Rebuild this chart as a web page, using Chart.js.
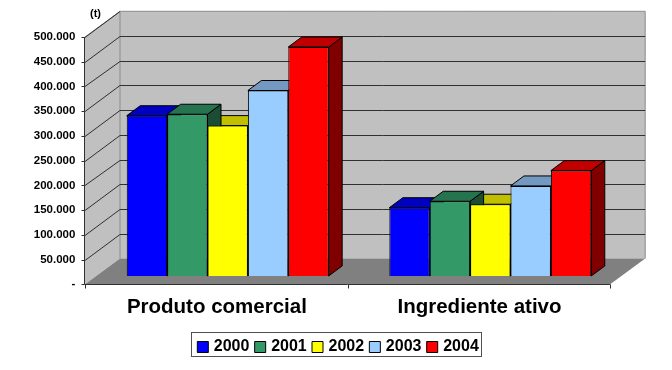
<!DOCTYPE html>
<html>
<head>
<meta charset="utf-8">
<style>html,body{margin:0;padding:0;background:#fff}#w{width:672px;height:370px}</style>
<script src="https://cdn.jsdelivr.net/npm/chart.js@4"></script>
</head>
<body>
<div id="w"><canvas id="c"></canvas></div>
<script>
const categories = ['Produto comercial', 'Ingrediente ativo'];
const years = ['2000', '2001', '2002', '2003', '2004'];
const v2000 = [324000, 138000];
const v2001 = [327000, 151000];
const v2002 = [304000, 145000];
const v2003 = [375000, 182000];
const v2004 = [463000, 213000];
const seriesValues = [v2000, v2001, v2002, v2003, v2004];
const frontColors = ['#0000FF', '#339966', '#FFFF00', '#99CCFF', '#FF0000'];
const topColors = ['#0000C0', '#267350', '#C0C000', '#7399C0', '#C00000'];
const sideColors = ['#000080', '#1A4D33', '#808000', '#4D6680', '#800000'];
const unitLabel = '(t)';
const FONT = '"Liberation Sans", Arial, sans-serif';

const scene = {
  id: 'scene',
  afterLayout(chart) {
    chart.scales.y.left = 0;   // keep the long tick labels from being clipped
  },
  beforeDraw(chart) {
    const ctx = chart.ctx, x = chart.scales.x, y = chart.scales.y;
    const a = chart.chartArea;
    const fl = a.left - 11.4, fr = a.right - 11.4;           // front plane
    const bl = fl + 35, br = fr + 35;                        // back plane
    const fy = v => y.getPixelForValue(v) + 8.3;
    const by = v => y.getPixelForValue(v) - 17.4;
    const maxV = y.max;
    ctx.save();
    ctx.fillStyle = '#fff';
    ctx.fillRect(0, 0, chart.width, chart.height);
    ctx.fillStyle = '#C0C0C0';
    ctx.fillRect(bl, by(maxV), br - bl, by(0) - by(maxV));
    ctx.beginPath();
    ctx.moveTo(fl, fy(maxV)); ctx.lineTo(bl, by(maxV)); ctx.lineTo(bl, by(0)); ctx.lineTo(fl, fy(0));
    ctx.closePath(); ctx.fill();
    ctx.fillStyle = '#808080';
    ctx.beginPath();
    ctx.moveTo(fl, fy(0)); ctx.lineTo(bl, by(0)); ctx.lineTo(br, by(0)); ctx.lineTo(fr, fy(0));
    ctx.closePath(); ctx.fill();
    ctx.strokeStyle = '#8c8c8c'; ctx.lineWidth = 1;
    ctx.beginPath();
    ctx.moveTo(fl, fy(maxV)); ctx.lineTo(bl, by(maxV)); ctx.lineTo(br, by(maxV)); ctx.lineTo(br, by(0));
    ctx.moveTo(bl, by(maxV)); ctx.lineTo(bl, by(0));
    ctx.stroke();
    ctx.strokeStyle = '#303030';
    ctx.beginPath();
    y.ticks.forEach(t => {
      if (t.value === 0) return;
      const yf = Math.round(fy(t.value)) + 0.5, yb = Math.round(by(t.value)) + 0.5;
      if (t.value < maxV) { ctx.moveTo(bl, yb); ctx.lineTo(br, yb); }
      ctx.moveTo(fl, yf); ctx.lineTo(bl, yb);
    });
    ctx.stroke();
    ctx.beginPath();
    const xa = Math.round(fl) - 0.5, ya = Math.round(fy(0)) + 0.5;
    ctx.moveTo(xa, Math.round(fy(maxV))); ctx.lineTo(xa, ya); ctx.lineTo(fr, ya);
    y.ticks.forEach(t => {
      const yt = Math.round(fy(t.value)) + 0.5;
      ctx.moveTo(xa - 3, yt); ctx.lineTo(xa, yt);
    });
    const step = (fr - fl) / categories.length;
    categories.concat('').forEach((_, i) => {
      const xt = Math.round(fl + step * i) + 0.5;
      ctx.moveTo(xt, ya); ctx.lineTo(xt, ya + 4);
    });
    ctx.stroke();
    ctx.fillStyle = '#000';
    ctx.font = 'bold 11px ' + FONT;
    ctx.textAlign = 'left'; ctx.textBaseline = 'middle';
    ctx.fillText(unitLabel, 90, 14);
    ctx.restore();
  },
  beforeDatasetsDraw(chart) {
    const ctx = chart.ctx, dx = 13.5, dy = 10;
    ctx.save();
    ctx.strokeStyle = '#000'; ctx.lineWidth = 1; ctx.lineJoin = 'round';
    categories.forEach((_, c) => {
      const order = chart.data.datasets.map((d, i) => i)
        .sort((p, q) => chart.data.datasets[p].data[c] - chart.data.datasets[q].data[c]);
      order.forEach(d => {
        const b = chart.getDatasetMeta(d).data[c];
        const l = b.x - b.width / 2, r = b.x + b.width / 2, t = b.y, base = b.base;
        ctx.fillStyle = sideColors[d];
        ctx.beginPath();
        ctx.moveTo(r, t); ctx.lineTo(r + dx, t - dy); ctx.lineTo(r + dx, base - dy); ctx.lineTo(r, base);
        ctx.closePath(); ctx.fill(); ctx.stroke();
        ctx.fillStyle = topColors[d];
        ctx.beginPath();
        ctx.moveTo(l, t); ctx.lineTo(l + dx, t - dy); ctx.lineTo(r + dx, t - dy); ctx.lineTo(r, t);
        ctx.closePath(); ctx.fill(); ctx.stroke();
      });
    });
    ctx.restore();
  },
  afterDraw(chart) {
    const ctx = chart.ctx;
    ctx.save();
    ctx.strokeStyle = '#505050'; ctx.lineWidth = 1;
    ctx.strokeRect(191.5, 332.5, 290, 24);
    ctx.restore();
  }
};

new Chart(document.getElementById('c'), {
  type: 'bar',
  data: {
    labels: categories,
    datasets: years.map((yr, i) => ({
      label: yr,
      data: seriesValues[i],
      backgroundColor: frontColors[i],
      borderColor: '#000',
      borderWidth: 1,
      categoryPercentage: 0.769,
      barPercentage: 1,
      clip: false
    }))
  },
  plugins: [scene],
  options: {
    responsive: true,
    maintainAspectRatio: false,
    animation: false,
    layout: { padding: { left: 57, right: 50.4, top: 28.7, bottom: 5 } },
    plugins: {
      tooltip: { enabled: false },
      title: { display: false },
      legend: {
        position: 'bottom',
        labels: {
          color: '#000', boxWidth: 6, boxHeight: 11, padding: 7.75,
          usePointStyle: true, pointStyle: 'rect',
          font: { family: FONT, size: 16, weight: 'bold' }
        }
      }
    },
    scales: {
      x: {
        afterFit(s) { s.height = 55.3; },
        grid: { display: false, drawTicks: false },
        border: { display: false },
        ticks: {
          color: '#000', padding: 19, labelOffset: -10.8, maxRotation: 0, autoSkip: false,
          font: { family: FONT, size: 20.5, weight: 'bold' }
        }
      },
      y: {
        min: 0, max: 500000,
        afterFit(s) { s.width = 39.4; },
        grid: { display: false, drawTicks: false },
        border: { display: false },
        ticks: {
          stepSize: 50000, color: '#000', padding: 21, labelOffset: 8.3,
          font: { family: FONT, size: 11.5, weight: 'bold' },
          callback: v => v === 0 ? '-' : String(v).replace(/\B(?=(\d{3})+$)/g, '.')
        }
      }
    }
  }
});
</script>
</body>
</html>
